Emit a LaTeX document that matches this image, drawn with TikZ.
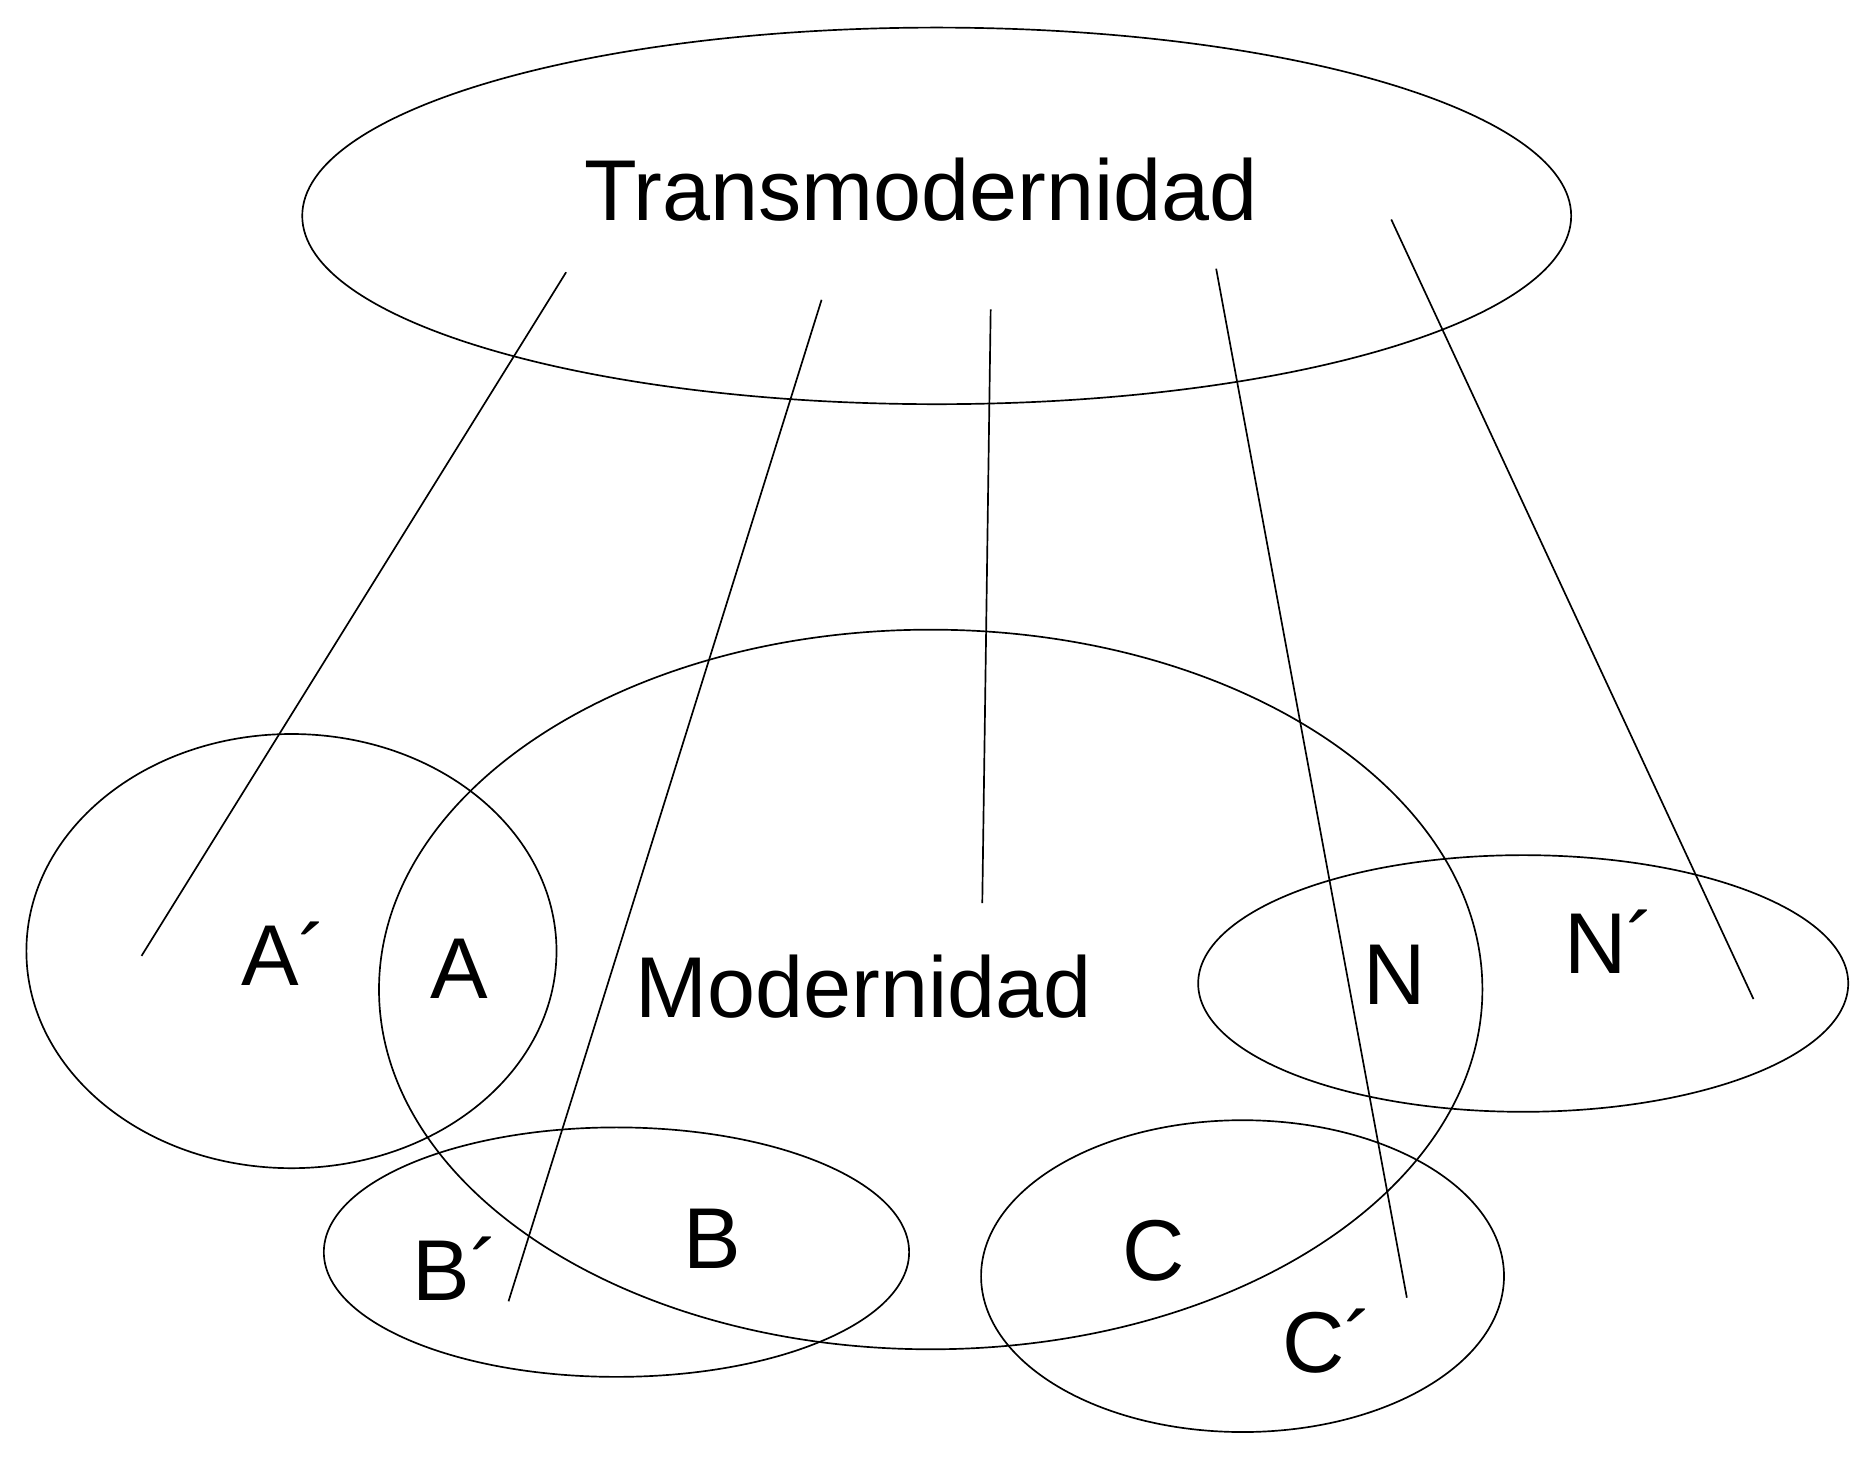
\documentclass[tikz,border=0pt]{standalone}
\usepackage{fontspec}
\setmainfont{Liberation Sans}
\begin{document}
\begin{tikzpicture}[x=1pt,y=-1pt,line width=1.4pt,
  lab/.style={font=\fontsize{72}{86}\selectfont},
  ell/.style={draw}]
\useasboundingbox (0,0) rectangle (1560,1222);
\draw[ell] (781,180) ellipse [x radius=529, y radius=157];
\draw[ell] (776,825) ellipse [x radius=460, y radius=300];
\draw[ell] (243,793) ellipse [x radius=221, y radius=181];
\draw[ell] (514,1044) ellipse [x radius=244, y radius=104];
\draw[ell] (1036,1064) ellipse [x radius=218, y radius=130];
\draw[ell] (1270,820) ellipse [x radius=271, y radius=107];
\coordinate (a1) at (472,227); \coordinate (a2) at (118,797);
\coordinate (b1) at (685,250); \coordinate (b2) at (424,1085);
\coordinate (m1) at (826,258); \coordinate (m2) at (819,753);
\coordinate (c1) at (1014,224); \coordinate (c2) at (1173,1082);
\coordinate (n1) at (1160,183); \coordinate (n2) at (1462,833);
\draw (a1)--(a2); \draw (b1)--(b2); \draw (m1)--(m2); \draw (c1)--(c2); \draw (n1)--(n2);
\node[lab] (t) at (768,158) {Transmodernidad};
\node[lab] (mo) at (720,823) {Modernidad};
\node[lab] (ap) at (237,795) {A´};
\node[lab] (a) at (383,808) {A};
\node[lab] (n) at (1163,813) {N};
\node[lab] (np) at (1342,785) {N´};
\node[lab] (bp) at (380,1058) {B´};
\node[lab] (b) at (594,1033) {B};
\node[lab] (c) at (962,1043) {C};
\node[lab] (cp) at (1107,1118) {C´};
\end{tikzpicture}
\end{document}
